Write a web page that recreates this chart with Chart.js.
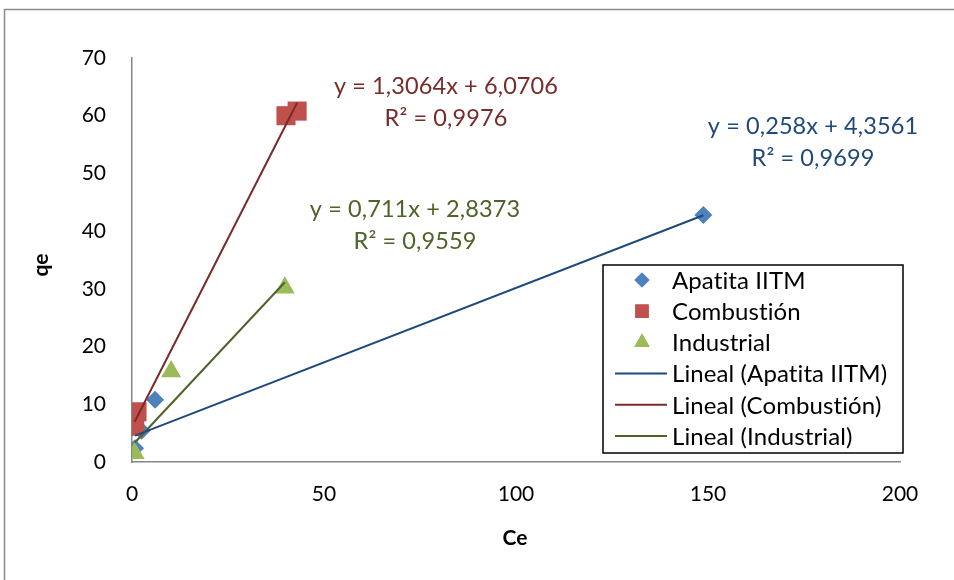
<!DOCTYPE html>
<html>
<head>
<meta charset="utf-8">
<script src="https://cdn.jsdelivr.net/npm/chart.js@4.4.1/dist/chart.umd.min.js"></script>
<style>
  html, body { margin: 0; padding: 0; background: #fff; }
  #chart { display: block; }
</style>
</head>
<body>
<canvas id="chart" width="954" height="580"></canvas>
<script>
// Isotermas: capacidad de adsorción qe frente a concentración de equilibrio Ce
const apatitaCe = [0.8, 2.5, 6, 148.8]
const apatitaQe = [2.4, 5.4, 10.8, 42.8]
const combustionCe = [0.7, 1.3, 40.1, 43]
const combustionQe = [6.2, 8.7, 60, 60.8]
const industrialCe = [0.7, 10.2, 39.8]
const industrialQe = [1.5, 15.7, 30.2]

// Ajustes lineales (pendiente, ordenada, R²)
const apatitaFit = [0.258, 4.3561, 0.9699]
const combustionFit = [1.3064, 6.0706, 0.9976]
const industrialFit = [0.711, 2.8373, 0.9559]

const xTicks = [0, 50, 100, 150, 200]
const yTicks = [0, 10, 20, 30, 40, 50, 60, 70]

const FONT = "Lato, 'Open Sans', sans-serif"

const toPoints = (xs, ys) => xs.map((x, i) => ({ x: x, y: ys[i] }))

// línea de tendencia entre el Ce mínimo y máximo de cada serie
function trendPoints(xs, fit) {
  const lo = Math.min(...xs)
  const hi = Math.max(...xs)
  return [lo, hi].map((x) => ({ x: x, y: fit[0] * x + fit[1] }))
}

const fmt = (v) => String(v).replace(".", ",")

const legendItems = [
  { text: "Apatita IITM", kind: "rectRot", color: "#4F81BD" },
  { text: "Combustión", kind: "rect", color: "#C0504D" },
  { text: "Industrial", kind: "triangle", color: "#9BBB59" },
  { text: "Lineal (Apatita IITM)", kind: "line", color: "#1F497D" },
  { text: "Lineal (Combustión)", kind: "line", color: "#772C2A" },
  { text: "Lineal (Industrial)", kind: "line", color: "#4F6228" },
]

const equations = [
  { fit: combustionFit, x: 446, y: 86, color: "#772C2A" },
  { fit: industrialFit, x: 415, y: 209, color: "#4F6228" },
  { fit: apatitaFit, x: 813, y: 126, color: "#1F497D" },
]

const overlay = {
  id: "overlay",
  afterDraw(chart) {
    const ctx = chart.ctx
    ctx.save()

    // marco exterior
    ctx.strokeStyle = "#8A8A8A"
    ctx.lineWidth = 1.5
    ctx.strokeRect(4.5, 9.5, 980, 600)

    // títulos de ejes
    ctx.fillStyle = "#000"
    ctx.font = "bold 21px " + FONT
    ctx.textAlign = "center"
    ctx.textBaseline = "middle"
    ctx.fillText("Ce", 515, 538)
    ctx.save()
    ctx.translate(41, 265)
    ctx.rotate(-Math.PI / 2)
    ctx.fillText("qe", 0, 0)
    ctx.restore()

    // sin ligaduras (ti) en los textos largos
    ctx.letterSpacing = "0.1px"

    // ecuaciones de las rectas
    ctx.font = "23.5px " + FONT
    equations.forEach((eq) => {
      ctx.fillStyle = eq.color
      ctx.fillText("y = " + fmt(eq.fit[0]) + "x + " + fmt(eq.fit[1]), eq.x, eq.y)
      ctx.fillText("R² = " + fmt(eq.fit[2].toFixed(4)), eq.x, eq.y + 32)
    })

    // leyenda
    const box = { x: 603, y: 265, w: 300, h: 188 }
    ctx.fillStyle = "#fff"
    ctx.fillRect(box.x, box.y, box.w, box.h)
    ctx.strokeStyle = "#000"
    ctx.lineWidth = 1.5
    ctx.strokeRect(box.x, box.y, box.w, box.h)
    ctx.textAlign = "left"
    ctx.font = "24px " + FONT
    legendItems.forEach((item, i) => {
      const cy = box.y + 15 + i * 31.2
      const cx = 642
      if (item.kind === "line") {
        ctx.strokeStyle = item.color
        ctx.lineWidth = 2
        ctx.beginPath()
        ctx.moveTo(615, cy)
        ctx.lineTo(667, cy)
        ctx.stroke()
      } else {
        ctx.fillStyle = item.color
        Chart.helpers.drawPoint(ctx, { pointStyle: item.kind, radius: item.kind === "triangle" ? 9 : item.kind === "rect" ? 9.5 : 7.5, borderWidth: 0 }, cx, cy)
        ctx.fill()
      }
      ctx.fillStyle = "#000"
      ctx.fillText(item.text, 672, cy + 1)
    })
    ctx.restore()
  },
}

new Chart(document.getElementById("chart"), {
  type: "scatter",
  data: {
    datasets: [
      {
        label: "Lineal (Apatita IITM)",
        type: "line",
        data: trendPoints(apatitaCe, apatitaFit),
        borderColor: "#1F497D",
        borderWidth: 2,
        pointRadius: 0,
        order: 1,
      },
      {
        label: "Lineal (Combustión)",
        type: "line",
        data: trendPoints(combustionCe, combustionFit),
        borderColor: "#772C2A",
        borderWidth: 2,
        pointRadius: 0,
        order: 1,
      },
      {
        label: "Lineal (Industrial)",
        type: "line",
        data: trendPoints(industrialCe, industrialFit),
        borderColor: "#4F6228",
        borderWidth: 2,
        pointRadius: 0,
        order: 1,
      },
      {
        label: "Apatita IITM",
        data: toPoints(apatitaCe, apatitaQe),
        pointStyle: "rectRot",
        pointRadius: 9,
        backgroundColor: "#4F81BD",
        borderWidth: 0,
        order: 4,
      },
      {
        label: "Combustión",
        data: toPoints(combustionCe, combustionQe),
        pointStyle: "rect",
        pointRadius: 13.5,
        backgroundColor: "#C0504D",
        borderWidth: 0,
        order: 3,
      },
      {
        label: "Industrial",
        data: toPoints(industrialCe, industrialQe),
        pointStyle: "triangle",
        pointRadius: 11.5,
        backgroundColor: "#9BBB59",
        borderWidth: 0,
        order: 2,
      },
    ],
  },
  options: {
    responsive: false,
    animation: false,
    layout: { padding: { left: 0, top: 58, right: 54, bottom: 0 } },
    plugins: {
      legend: { display: false },
      tooltip: { enabled: false },
    },
    scales: {
      x: {
        type: "linear",
        min: xTicks[0],
        max: xTicks[xTicks.length - 1],
        afterFit: (scale) => { scale.height = 118 },
        afterBuildTicks: (scale) => { scale.ticks = xTicks.map((v) => ({ value: v })) },
        ticks: { color: "#000", font: { family: FONT, size: 21 }, padding: 20 },
        grid: { display: true, drawOnChartArea: false, drawTicks: false },
        border: { color: "#868686", width: 1.5 },
      },
      y: {
        min: yTicks[0],
        max: yTicks[yTicks.length - 1],
        afterFit: (scale) => { scale.width = 132 },
        afterBuildTicks: (scale) => { scale.ticks = yTicks.map((v) => ({ value: v })) },
        ticks: { color: "#000", font: { family: FONT, size: 21 }, padding: 26 },
        grid: { display: true, drawOnChartArea: false, drawTicks: false },
        border: { color: "#868686", width: 1.5 },
      },
    },
  },
  plugins: [overlay],
})
</script>
</body>
</html>
